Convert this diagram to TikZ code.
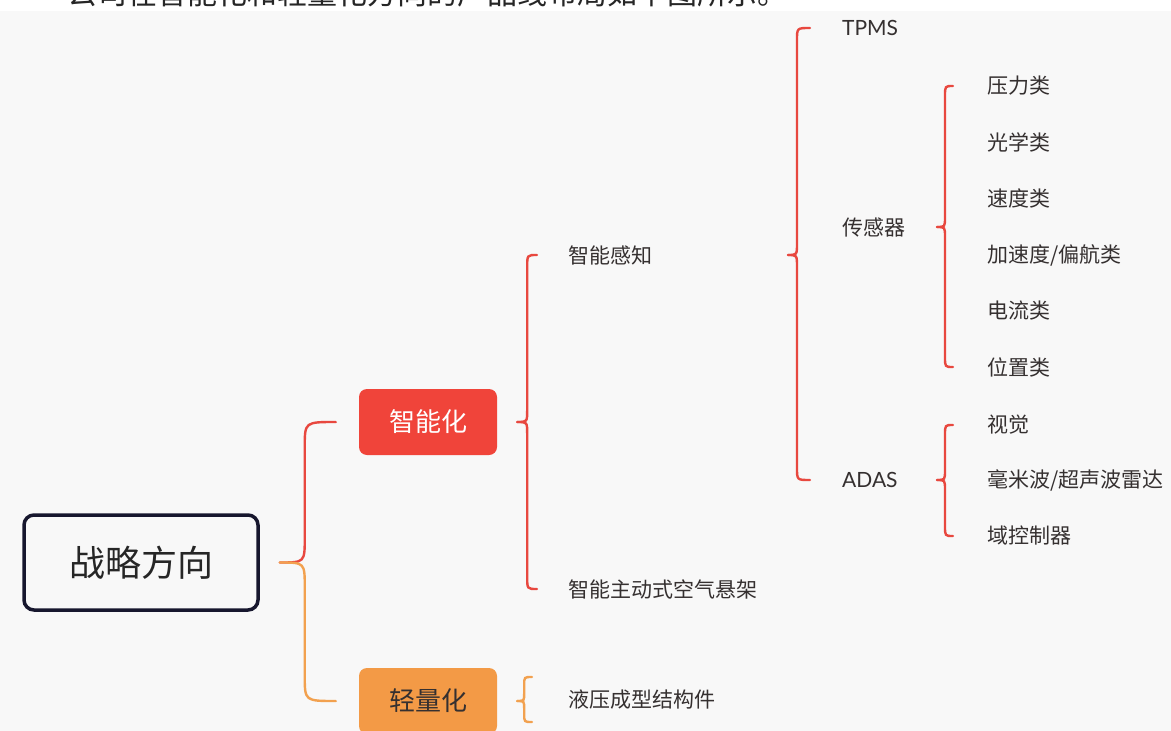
\documentclass[tikz,border=0pt]{standalone}
\usepackage{fontspec}
\setmainfont{Noto Sans CJK SC}
\newfontfamily\latinf{Lato}
\usetikzlibrary{calc}
\definecolor{bg}{HTML}{F8F8F8}
\definecolor{txt}{HTML}{353030}
\definecolor{bred}{HTML}{E8483F}
\definecolor{boxred}{HTML}{F0443A}
\definecolor{bora}{HTML}{F2A14F}
\definecolor{boxora}{HTML}{F39A46}
\definecolor{navy}{HTML}{17172E}
\newcommand\hbrace[5]{%
  \draw[#1] let \p1=(#2), \p2=(#3), \n1={sign(\y2-\y1)} in
    (\x1,\y1) .. controls (\x1+#4,\y1) .. (\x1+#4,\y1+\n1*#5)
    -- (\x1+#4,\y2-\n1*#5) .. controls (\x1+#4,\y2) .. (\x2,\y2);}
\tikzset{
  lbl/.style={anchor=west, inner sep=0pt, font=\fontsize{21}{21}\selectfont, text=txt},
  lat/.style={lbl, font=\fontsize{21}{21}\selectfont\latinf},
  redbr/.style={draw=bred, line width=2.4pt, line cap=round},
  orabr/.style={draw=bora, line width=2.4pt, line cap=round},
  rootbox/.style={draw=navy, line width=3.5pt, rounded corners=10pt, minimum width=234pt, minimum height=95pt, font=\fontsize{36}{36}\selectfont, text=black!85},
  catbox/.style={rounded corners=8pt, minimum width=138pt, minimum height=66pt, font=\fontsize{26}{26}\selectfont, inner sep=0pt}
}
\begin{document}
\begin{tikzpicture}[x=1pt,y=-1pt]
\useasboundingbox (0,0) rectangle (1171,731);
\clip (0,0) rectangle (1171,731);
\fill[white] (0,0) rectangle (1171,731);
\fill[bg] (0,11) rectangle (1171,731);
\node[anchor=base west, inner sep=0pt, font=\fontsize{30}{30}\selectfont, text=black!85] (intro) at (67,4) {公司在智能化和轻量化方向的产品线布局如下图所示。};

\node[rootbox] (root) at (141,562.5) {战略方向};
\node[catbox, fill=boxred, text=white] (zhi) at (428,422) {智能化};
\node[catbox, fill=boxora, text=txt] (qing) at (428,701) {轻量化};

\node[lbl] (zn) at (568,255) {智能感知};
\node[lbl] (air) at (568,589) {智能主动式空气悬架};
\node[lat] (tpms) at (842,28) {TPMS};
\node[lbl] (sensor) at (842,227) {传感器};
\node[lat] (adas) at (842,480) {ADAS};
\node[lbl] (p1) at (987,86) {压力类};
\node[lbl] (p2) at (987,142) {光学类};
\node[lbl] (p3) at (987,198) {速度类};
\node[lbl] (p4) at (987,255) {加速度/偏航类};
\node[lbl] (p5) at (987,311) {电流类};
\node[lbl] (p6) at (987,367) {位置类};
\node[lbl] (a1) at (987,425) {视觉};
\node[lbl] (a2) at (987,480) {毫米波/超声波雷达};
\node[lbl] (a3) at (987,536) {域控制器};
\node[lbl] (hydro) at (568,700) {液压成型结构件};

% tips
\coordinate (t0) at ($(root.east)+(20,0)$);
\coordinate (t1) at ($(zhi.east)+(20,0)$);
\coordinate (t2) at ($(zn.west -| tpms.west)+(-54,0)$);
\coordinate (t3) at ($(sensor.west -| p1.west)+(-50,0)$);
\coordinate (t4) at ($(adas.west -| a1.west)+(-50,0)$);
\coordinate (t5) at ($(qing.east)+(20,0)$);

% root brace
\hbrace{redbr}{t0}{$(zhi.west)+(-23,0)$}{25pt}{25pt}
\hbrace{orabr}{t0}{$(qing.west)+(-23,0)$}{25pt}{25pt}
% 智能化
\hbrace{redbr}{t1}{$(zn.west)+(-31,0)$}{10pt}{12pt}
\hbrace{redbr}{t1}{$(air.west)+(-31,0)$}{10pt}{12pt}
% 智能感知
\hbrace{redbr}{t2}{$(tpms.west)+(-32,0)$}{9pt}{12pt}
\hbrace{redbr}{t2}{$(adas.west)+(-32,0)$}{9pt}{12pt}
% 传感器
\hbrace{redbr}{t3}{$(p1.west)+(-34,0)$}{8pt}{10pt}
\hbrace{redbr}{t3}{$(p6.west)+(-34,0)$}{8pt}{10pt}
% ADAS
\hbrace{redbr}{t4}{$(a1.west)+(-34,0)$}{8pt}{10pt}
\hbrace{redbr}{t4}{$(a3.west)+(-34,0)$}{8pt}{10pt}
% 轻量化
\hbrace{orabr}{t5}{$(hydro.west)+(-36,-23)$}{7pt}{8pt}
\hbrace{orabr}{t5}{$(hydro.west)+(-36,22)$}{7pt}{8pt}
\end{tikzpicture}
\end{document}
